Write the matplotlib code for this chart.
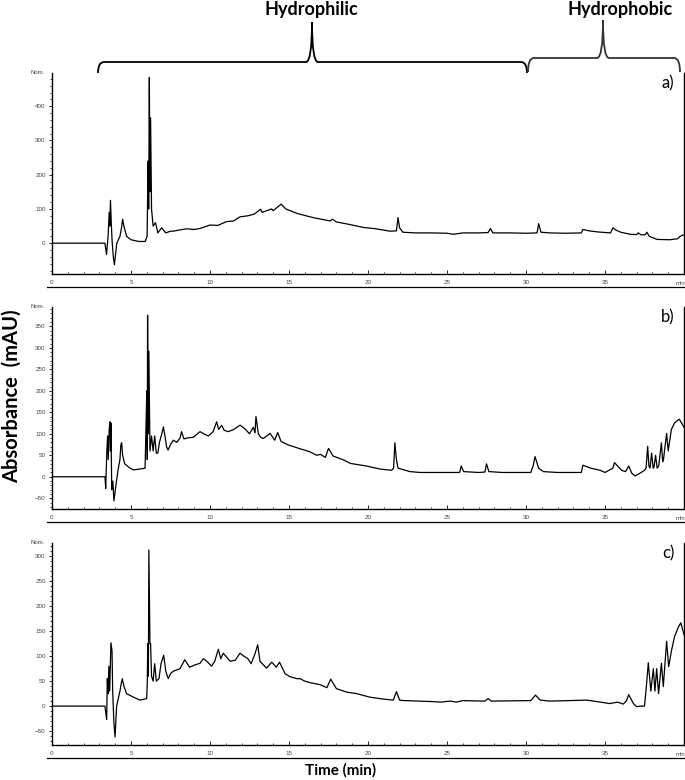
import matplotlib
matplotlib.use('Agg')
import matplotlib.pyplot as plt
from matplotlib.path import Path
from matplotlib.patches import PathPatch
from matplotlib.ticker import MultipleLocator
import matplotlib.transforms as mtransforms

plt.rcParams['font.family'] = ['Liberation Sans', 'DejaVu Sans']

# ----- data (time in min, absorbance in mAU) -----
time_a = [0, 3.35, 3.45, 3.55, 3.62, 3.66, 3.70, 3.75, 3.80, 3.88, 3.95, 4.1, 4.3, 4.4, 4.47,
          4.55, 4.72, 5.0, 5.5, 5.9, 6.02, 6.08, 6.12, 6.16, 6.2, 6.24, 6.3, 6.4, 6.55, 6.7,
          6.94, 7.2, 7.5, 7.68, 8.0, 8.52, 9.0, 9.37, 10.0, 10.5, 11.05, 11.5, 11.9, 12.4, 12.8,
          13.2, 13.3, 13.6, 13.9, 14.0, 14.5, 14.8, 15.5, 16.5, 17.6, 17.75, 18.0, 18.8, 19.7, 20.5,
          21.4, 21.8, 21.9, 22.0, 22.2, 23.0, 24.0, 25.0, 25.4, 26.0, 27.0, 27.6, 27.75, 27.9, 29.0,
          30.0, 30.7, 30.8, 30.95, 31.5, 32.5, 33.5, 33.6, 34.0, 34.5, 35.35, 35.5, 35.7, 36.0, 36.6,
          37.0, 37.1, 37.3, 37.55, 37.65, 37.8, 38.3, 39.1, 39.6, 39.75, 40.0]
abs_a = [0, 0, -33, 20, 90, 50, 125, 60, 10, -40, -63, 0, 20, 45, 70,
         50, 20, 10, 5, 5, 20, 240, 100, 484, 150, 366, 100, 50, 60, 30,
         45, 30, 35, 35, 38, 42, 40, 43, 53, 52, 63, 65, 77, 80, 85,
         99, 90, 95, 100, 95, 114, 100, 87, 75, 65, 70, 62, 55, 46, 42,
         35, 36, 75, 45, 32, 30, 30, 29, 26, 30, 30, 31, 43, 30, 30,
         29, 30, 57, 32, 30, 29, 30, 40, 36, 33, 30, 45, 38, 32, 26,
         25, 30, 24, 25, 32, 20, 11, 10, 13, 20, 25]

time_b = [0, 3.35, 3.4, 3.47, 3.52, 3.56, 3.62, 3.67, 3.70, 3.73, 3.78, 3.85, 3.92, 4.08, 4.2,
          4.3, 4.36, 4.41, 4.47, 4.6, 4.94, 5.15, 5.57, 5.89, 6.0, 6.03, 6.05, 6.09, 6.13, 6.2,
          6.3, 6.4, 6.5, 6.6, 6.7, 6.8, 6.95, 7.05, 7.15, 7.25, 7.35, 7.5, 7.68, 7.9, 8.1,
          8.2, 8.35, 8.52, 8.94, 9.37, 9.6, 9.9, 10.2, 10.42, 10.55, 10.74, 10.9, 11.16, 11.5, 11.9,
          12.2, 12.5, 12.74, 12.85, 12.91, 13.06, 13.2, 13.37, 13.6, 13.8, 14.1, 14.28, 14.5, 14.96, 15.3,
          15.7, 16.0, 16.33, 16.75, 17.0, 17.3, 17.5, 17.8, 18.4, 18.9, 19.4, 19.9, 20.75, 21.5, 21.62,
          21.7, 21.8, 21.9, 22.66, 23.3, 24.0, 25.0, 25.8, 25.9, 26.05, 27.0, 27.4, 27.5, 27.65, 28.5,
          30.3, 30.45, 30.57, 30.8, 31.1, 32.0, 33.5, 33.6, 34.1, 34.7, 35.0, 35.5, 35.6, 36.05, 36.3,
          36.5, 36.7, 36.9, 37.2, 37.5, 37.6, 37.7, 37.78, 37.85, 37.95, 38.05, 38.1, 38.2, 38.3, 38.4,
          38.57, 38.65, 38.7, 38.9, 39.0, 39.1, 39.2, 39.4, 39.55, 39.7, 39.85, 40.0]
abs_b = [0, 0, -27, 60, 95, 40, 110, 128, 60, 125, -30, -10, -56, -10, 20,
         40, 75, 79, 50, 30, 20, 16, 18, 20, 200, 40, 376, 100, 292, 60,
         95, 60, 95, 55, 55, 80, 100, 116, 95, 70, 62, 75, 85, 80, 90,
         105, 88, 90, 92, 105, 100, 95, 105, 128, 110, 120, 108, 105, 110, 120,
         112, 100, 115, 102, 140, 100, 92, 89, 95, 101, 85, 103, 82, 74, 70,
         65, 62, 58, 50, 52, 45, 66, 48, 40, 31, 28, 25, 18, 15, 20,
         79, 40, 20, 12, 10, 10, 10, 10, 25, 12, 10, 11, 30, 12, 10,
         10, 25, 47, 20, 12, 10, 10, 27, 20, 15, 10, 20, 33, 15, 12,
         25, 8, 2, 8, 15, 20, 71, 25, 20, 55, 20, 22, 50, 20, 25,
         79, 35, 40, 101, 60, 85, 110, 125, 130, 134, 125, 115]

time_c = [0, 3.35, 3.46, 3.5, 3.55, 3.6, 3.65, 3.73, 3.8, 3.84, 3.92, 3.99, 4.09, 4.3, 4.38,
          4.45, 4.55, 4.72, 5.15, 5.57, 5.99, 6.03, 6.06, 6.1, 6.13, 6.2, 6.24, 6.3, 6.4, 6.5,
          6.6, 6.77, 6.9, 7.07, 7.2, 7.36, 7.5, 7.68, 8.1, 8.4, 8.71, 9.0, 9.37, 9.58, 9.79,
          10.1, 10.3, 10.53, 10.68, 10.84, 11.27, 11.6, 11.9, 12.15, 12.4, 12.6, 12.85, 13.02, 13.16, 13.58,
          13.9, 14.2, 14.4, 14.75, 15.06, 15.5, 15.7, 16.0, 16.33, 16.96, 17.4, 17.64, 18.0, 18.65, 19.28,
          20.1, 20.98, 21.6, 21.8, 22.0, 22.3, 24.1, 24.6, 25.2, 25.6, 26.0, 27.4, 27.6, 27.8, 30.3,
          30.6, 30.9, 31.5, 33.84, 34.7, 35.3, 35.8, 36.15, 36.35, 36.5, 36.8, 37.0, 37.3, 37.5, 37.62,
          37.74, 37.9, 38.06, 38.16, 38.27, 38.39, 38.57, 38.69, 38.9, 39.03, 39.2, 39.4, 39.65, 39.8, 40.0]
abs_c = [0, 0, -27, 55, 25, 80, 30, 127, 110, 30, -35, -62, 0, 30, 45,
         55, 40, 25, 18, 12, 15, 45, 125, 60, 313, 125, 125, 60, 50, 85,
         50, 55, 85, 102, 70, 55, 65, 70, 75, 93, 78, 82, 86, 95, 90,
         80, 90, 114, 95, 106, 90, 92, 106, 100, 95, 85, 105, 123, 90, 76,
         88, 78, 88, 65, 59, 55, 55, 50, 47, 43, 37, 54, 35, 28, 25,
         18, 14, 12, 29, 12, 11, 9, 8, 10, 8, 11, 10, 15, 10, 11,
         22, 12, 10, 12, 8, 5, 8, 4, 10, 23, 5, -1, 0, 0, 40,
         87, 30, 75, 30, 75, 25, 86, 39, 130, 79, 110, 139, 159, 167, 143]

panel_labels = ['a)', 'b)', 'c)']
y_limits = [(-90, 497), (-75, 395), (-78, 327)]
y_major = [100, 50, 50]
y_minor = [20, 10, 10]
x_ticks = [0, 5, 10, 15, 20, 25, 30, 35]

W, H = 685, 780
fig = plt.figure(figsize=(W / 100, H / 100), dpi=100)

# panel boxes in pixels: (top, bottom)
boxes = [(73, 274), (307, 509), (543, 745)]
left_px, right_px = 52, 684
traces = [(time_a, abs_a), (time_b, abs_b), (time_c, abs_c)]

axes = []
for i, ((top, bot), (t, a)) in enumerate(zip(boxes, traces)):
    ax = fig.add_axes([left_px / W, 1 - bot / H, (right_px - left_px) / W, (bot - top) / H])
    ax.plot(t, a, color='black', lw=0.9)
    ax.set_xlim(0, 40)
    ax.set_ylim(*y_limits[i])
    ax.spines['top'].set_visible(False)
    for s in ['left', 'bottom', 'right']:
        ax.spines[s].set_linewidth(1.0)
    ax.yaxis.set_major_locator(MultipleLocator(y_major[i]))
    ax.yaxis.set_minor_locator(MultipleLocator(y_minor[i]))
    ax.set_xticks(x_ticks)
    ax.xaxis.set_minor_locator(MultipleLocator(1))
    ax.tick_params(axis='y', which='major', direction='out', length=2.5, width=0.6,
                   labelsize=4.5, labelcolor='#444444', pad=2)
    ax.tick_params(axis='y', which='minor', direction='out', length=1.3, width=0.5)
    ax.tick_params(axis='x', which='major', direction='in', length=3, width=0.6,
                   labelsize=4.5, labelcolor='#444444', pad=4)
    ax.tick_params(axis='x', which='minor', direction='in', length=1.5, width=0.5)
    ax.text(-0.012, 1.0, 'Nom.', transform=ax.transAxes, ha='right', va='center',
            fontsize=4.3, color='#444444')
    ax.text(39.75, -0.045, 'min', transform=ax.get_xaxis_transform(), ha='center', va='center',
            fontsize=4.3, color='#444444')
    # second rule under the tick labels
    off = mtransforms.ScaledTranslation(0, -0.13, fig.dpi_scale_trans)
    ax.plot([-0.008, 1.0], [0, 0], transform=ax.transAxes + off, color='black', lw=0.9,
            clip_on=False)
    fig.text(668 / W, 1 - (top + 10) / H, panel_labels[i], fontsize=12, family='Lato',
             ha='center', va='center')
    axes.append(ax)

fig.text(12 / W, 1 - 396 / H, 'Absorbance  (mAU)', rotation=90, fontsize=14.5, family='Lato',
         fontweight='bold', ha='center', va='center')
fig.text(341 / W, 1 - 770 / H, 'Time (min)', fontsize=11, family='Lato',
         fontweight='bold', ha='center', va='center')


# ----- braces marking the two regions (figure pixel coordinates) -----
def brace(x0, x1, xm, y_end, y_bar, y_tip, color):
    r = 6
    r2 = 6
    pts = [(x0, y_end), (x0, y_bar), (x0 + r, y_bar),
           (xm - r2, y_bar), (xm, y_bar), (xm, y_tip),
           (xm, y_bar), (xm + r2, y_bar),
           (x1 - r, y_bar), (x1, y_bar), (x1, y_end)]
    codes = [Path.MOVETO, Path.CURVE3, Path.CURVE3,
             Path.LINETO, Path.CURVE3, Path.CURVE3,
             Path.CURVE3, Path.CURVE3,
             Path.LINETO, Path.CURVE3, Path.CURVE3]
    verts = [(x / W, 1 - y / H) for x, y in pts]
    fig.add_artist(PathPatch(Path(verts, codes), transform=fig.transFigure,
                             facecolor='none', edgecolor=color, lw=1.3))


brace(98, 527, 312, 73, 62, 22, 'black')
brace(528, 680, 603, 72, 58, 20, '#333333')

fig.text(311 / W, 1 - 10 / H, 'Hydrophilic', fontsize=13, family='Lato',
         fontweight='bold', ha='center', va='center')
fig.text(620 / W, 1 - 10 / H, 'Hydrophobic', fontsize=13, family='Lato',
         fontweight='bold', ha='center', va='center')

fig.savefig('out.png', dpi=100)
